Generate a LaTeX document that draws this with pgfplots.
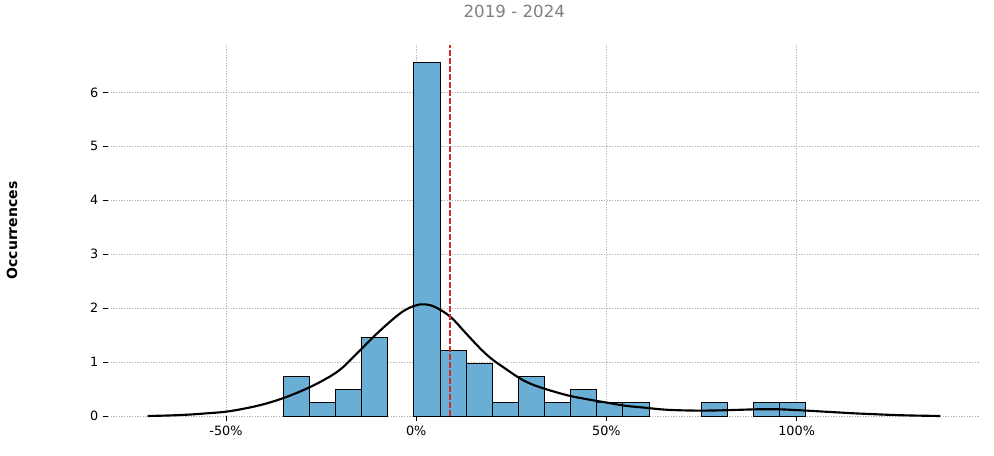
\documentclass[border=0pt]{standalone}
\usepackage{pgfplots}
\pgfplotsset{compat=1.18}
\usepackage{fontspec}
\setmainfont{DejaVu Sans}
\definecolor{barblue}{RGB}{106,174,214}
\definecolor{meanred}{RGB}{214,39,40}

\begin{document}
\begin{tikzpicture}
\begin{axis}[
    scale only axis,
    width=654pt, height=278.25pt,
    xmin=-81, xmax=148.2, ymin=0, ymax=6.88,
    axis x line*=bottom, axis y line*=left,
    axis line style={draw=none},
    xtick={-50,0,50,100},
    xticklabels={-50\%,0\%,50\%,100\%},
    ytick={0,1,2,3,4,5,6},
    tick align=outside, major tick length=3.7pt,
    tick style={black, line width=0.6pt},
    grid=major,
    grid style={gray!55, line width=0.4pt, dash pattern=on 1pt off 1pt},
    tick label style={font=\fontsize{9.6}{11}\selectfont},
    /pgf/number format/assume math mode=true,
    clip=false,
  ]
  % histogram (bin centres, heights)
  \addplot[ybar, bar width=6.865, bar shift=0pt, fill=barblue, draw=black, line width=0.75pt]
    coordinates {(-31.47,0.728) (-24.60,0.243) (-17.74,0.485) (-10.87,1.456)
                 (2.86,6.553) (9.72,1.213) (16.59,0.971) (23.45,0.243)
                 (30.32,0.728) (37.18,0.243) (44.05,0.485) (50.91,0.243)
                 (57.78,0.243) (78.37,0.243) (92.10,0.243) (98.97,0.243)};
  % density curve
  \addplot[black, line width=1.6pt, smooth, tension=0.6] coordinates {
    (-70.6,0.0) (-65,0.01) (-60,0.025) (-55,0.05) (-50,0.08) (-45,0.14)
    (-40,0.22) (-35,0.33) (-30,0.47) (-25,0.64) (-20,0.86) (-15,1.20)
    (-10,1.55) (-5,1.86) (-2,2.00) (1,2.07) (2.5,2.07) (5,2.02)
    (9,1.84) (13,1.54) (17,1.24) (20,1.05) (23,0.90) (27,0.71)
    (30,0.60) (34,0.50) (40,0.38) (45,0.31) (50,0.25) (55,0.19)
    (60,0.155) (65,0.12) (70,0.105) (75,0.10) (80,0.105) (85,0.115)
    (90,0.125) (95,0.125) (100,0.11) (105,0.09) (110,0.07) (115,0.05)
    (120,0.035) (125,0.02) (130,0.01) (137.8,0.0)};
  % mean
  \addplot[meanred, line width=1.1pt, dash pattern=on 4.2pt off 1.8pt]
    coordinates {(8.9,0) (8.9,6.88)};
  \coordinate (sw) at (rel axis cs:0,0);
  \coordinate (ne) at (rel axis cs:1,1);
  \node[rotate=90, font=\bfseries\fontsize{10.5}{12}\selectfont]
    at ([xshift=-72pt]rel axis cs:0,0.5) {Occurrences};
  \node[font=\fontsize{12.5}{14}\selectfont, text=gray]
    at ([yshift=25.5pt]rel axis cs:0.466,1) {2019 - 2024};
\end{axis}
\pgfresetboundingbox
\path ([shift={(-81pt,-29.25pt)}]sw) rectangle ([shift={(10.5pt,33.75pt)}]ne);
\end{tikzpicture}
\end{document}
